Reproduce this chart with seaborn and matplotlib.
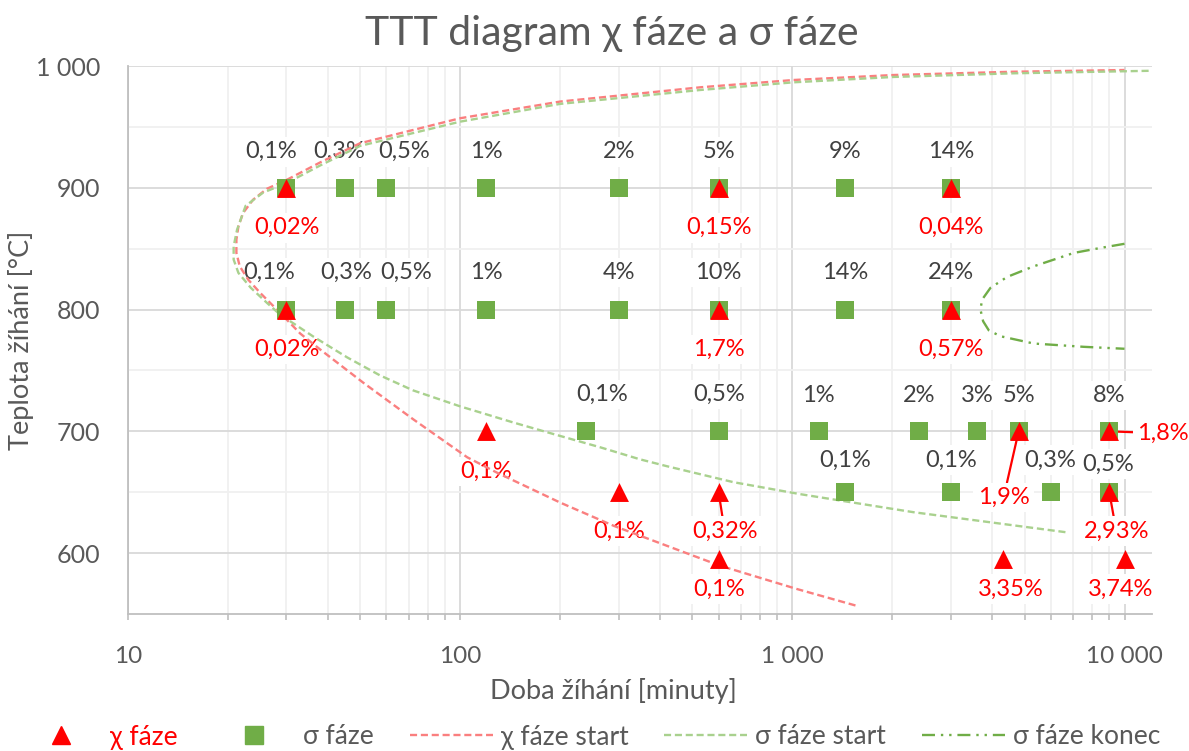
import pandas as pd
import matplotlib.pyplot as plt
import matplotlib.ticker as mticker
from matplotlib.lines import Line2D
import seaborn as sns

# ── data ─────────────────────────────────────────────────────
# sigma phase measurements (time in minutes, temperature in °C)
sigma_t = [30, 45, 60, 120, 300, 600, 1440, 3000,
           30, 45, 60, 120, 300, 600, 1440, 3000,
           240, 600, 1200, 2400, 3600, 4800, 9000,
           1440, 3000, 6000, 9000]
sigma_T = [900, 900, 900, 900, 900, 900, 900, 900,
           800, 800, 800, 800, 800, 800, 800, 800,
           700, 700, 700, 700, 700, 700, 700,
           650, 650, 650, 650]
sigma_lab = ['0,1%', '0,3%', '0,5%', '1%', '2%', '5%', '9%', '14%',
             '0,1%', '0,3%', '0,5%', '1%', '4%', '10%', '14%', '24%',
             '0,1%', '0,5%', '1%', '2%', '3%', '5%', '8%',
             '0,1%', '0,1%', '0,3%', '0,5%']

# chi phase measurements
chi_t = [30, 600, 3000, 30, 600, 3000, 120, 4800, 9000,
         300, 600, 9000, 600, 4320, 10000]
chi_T = [900, 900, 900, 800, 800, 800, 700, 700, 700,
         650, 650, 650, 595, 595, 595]
chi_lab = ['0,02%', '0,15%', '0,04%', '0,02%', '1,7%', '0,57%', '0,1%', '1,9%', '1,8%',
           '0,1%', '0,32%', '2,93%', '0,1%', '3,35%', '3,74%']

# chi start curve
chi_start_t = [1549, 1033, 607, 504, 290, 200, 129, 105, 72.3, 51.1, 37.9, 33.0,
               28.7, 25.0, 23.0, 21.7, 21.2, 21.2, 21.5, 22.2, 23.8, 26.2, 30.1,
               38, 50.0, 100, 200, 528, 1009, 2018, 4631, 10000]
chi_start_T = [557, 570.5, 589.6, 597.8, 622.4, 641.5, 666.1, 678.7, 709.8, 739.9,
               767.2, 780.3, 797.3, 813.7, 824.6, 835.5, 846.5, 857.4, 868.3, 879.3,
               890.2, 899.2, 906.6, 921, 936.6, 957.1, 970.8, 982.5, 988.5, 992.6,
               995.3, 996.7]

# sigma start curve
sigma_start_t = [6640, 2315, 1057, 666, 420, 348, 264, 183, 144, 100, 72.2, 57.4,
                 45.7, 36.1, 28.7, 26.2, 23.4, 21.5, 20.8, 20.8, 21.3, 22.6, 25.5,
                 30.1, 38, 50, 100, 200, 528, 1009, 2018, 4631, 12100]
sigma_start_T = [617.2, 633.6, 648.4, 658.2, 671.3, 677, 686.9, 699.2, 707.4, 720.5,
                 733.6, 745.9, 760.7, 777.9, 795.9, 805.5, 818, 830.1, 841, 852,
                 865.6, 885.2, 896, 904, 918.5, 934.4, 954.3, 968.9, 980.3, 986.6,
                 991, 994, 996.1]

# sigma end curve
sigma_end_t = [10000, 8467, 7035, 5330, 4433, 3948, 3727, 3684, 3753, 3902, 4231,
               5330, 7540, 10000]
sigma_end_T = [854, 850.6, 846.5, 835.5, 826.8, 817.8, 808.2, 800, 790.4, 783.0,
               778.1, 772.1, 769.4, 767.8]

# label offsets in pixels (dx, dy)
sigma_off = [(-15, 36), (-6, 36), (18, 36), (0, 36), (0, 36), (0, 36), (0, 36), (0, 36),
             (-17, 37), (1, 37), (20, 37), (0, 37), (0, 37), (0, 37), (0, 37), (0, 37),
             (16, 37), (0, 37), (0, 36), (0, 36), (0, 36), (0, 36), (0, 36),
             (0, 32), (0, 32), (-1, 32), (-1, 28)]
chi_off = [(0, -40), (0, -40), (0, -40), (0, -40), (0, -40), (0, -40),
           (0, -40), (-15, -66), (54, -2),
           (0, -39), (6, -39), (7, -39),
           (0, -30), (7, -30), (-4, -30)]
chi_leader = [False, False, False, False, False, False, False, True, True,
              False, True, True, False, False, False]

# ── style ────────────────────────────────────────────────────
sns.set_theme(style='white')
plt.rcParams['font.family'] = ['Lato', 'DejaVu Sans']

GREY = '#595959'
RED = '#FF0000'
GREEN = '#70AD47'
RED_LINE = '#FA7F7F'
GREEN_LINE = '#A9D18E'
DASH = (0, (3, 1.6))
DASHDOT = (0, (5.5, 2.5, 1, 2.5, 1, 2.5))

fig = plt.figure(figsize=(11.89, 7.51), dpi=100)
ax = fig.add_axes([128 / 1189, 1 - 614 / 751, 1024 / 1189, 548 / 751])

# curves
curves = [
    (chi_start_t, chi_start_T, RED_LINE, DASH),
    (sigma_start_t, sigma_start_T, GREEN_LINE, DASH),
    (sigma_end_t, sigma_end_T, GREEN, DASHDOT),
]
for t, T, c, ls in curves:
    d = pd.DataFrame({'t': t, 'T': T})
    sns.lineplot(data=d, x='t', y='T', sort=False, estimator=None, color=c,
                 linestyle=ls, linewidth=1.7, ax=ax, zorder=3)

# markers
sns.scatterplot(x=sigma_t, y=sigma_T, marker='s', color=GREEN, s=170,
                linewidth=0, ax=ax, zorder=4)
sns.scatterplot(x=chi_t, y=chi_T, marker='^', color=RED, s=185,
                linewidth=0, ax=ax, zorder=5)

box = dict(boxstyle='square,pad=0.18', fc='white', ec='none')
for t, T, lab, (dx, dy) in zip(sigma_t, sigma_T, sigma_lab, sigma_off):
    ax.annotate(lab, (t, T), xytext=(dx, dy), textcoords='offset pixels',
                ha='center', va='center', fontsize=17, color='#404040',
                bbox=box, zorder=2)
for t, T, lab, (dx, dy), lead in zip(chi_t, chi_T, chi_lab, chi_off, chi_leader):
    ap = dict(arrowstyle='-', color=RED, lw=1.6, shrinkA=0, shrinkB=0) if lead else None
    ax.annotate(lab, (t, T), xytext=(dx, dy), textcoords='offset pixels',
                ha='center', va='center', fontsize=17, color=RED,
                bbox=box, arrowprops=ap, zorder=2, annotation_clip=False)

# axes
ax.set_xscale('log')
ax.set_xlim(10, 12100)
ax.set_ylim(550, 1000)
ax.xaxis.set_major_locator(mticker.FixedLocator([10, 100, 1000, 10000]))
ax.xaxis.set_minor_locator(mticker.LogLocator(base=10, subs=range(2, 10), numticks=20))
ax.xaxis.set_minor_formatter(mticker.NullFormatter())
ax.xaxis.set_major_formatter(mticker.FuncFormatter(lambda v, p: f'{int(v):,}'.replace(',', ' ')))
ax.yaxis.set_major_locator(mticker.FixedLocator([600, 700, 800, 900, 1000]))
ax.yaxis.set_minor_locator(mticker.FixedLocator([650, 750, 850, 950]))
ax.yaxis.set_major_formatter(mticker.FuncFormatter(lambda v, p: f'{int(v):,}'.replace(',', ' ')))

ax.grid(which='major', color='#D9D9D9', linewidth=1.3, zorder=0)
ax.grid(which='minor', color='#F0F0F0', linewidth=1.3, zorder=0)
ax.set_axisbelow(True)
for s in ['top', 'right']:
    ax.spines[s].set_visible(False)
for s in ['left', 'bottom']:
    ax.spines[s].set_color('#BFBFBF')
    ax.spines[s].set_linewidth(1.3)

ax.tick_params(axis='x', which='both', direction='out', length=4, width=1.2,
               color='#BFBFBF', labelsize=17.5, labelcolor=GREY, pad=19, bottom=True)
ax.tick_params(axis='y', which='both', length=0, labelsize=18, labelcolor=GREY, pad=20)

ax.set_xlabel('Doba žíhání [minuty]', fontsize=19.5, color=GREY)
ax.set_ylabel('Teplota žíhání [°C]', fontsize=19.5, color=GREY)
ax.xaxis.set_label_coords(485 / 1024, -0.117)
ax.yaxis.set_label_coords(-0.092, 0.5)

fig.text(612 / 1189, 1 - 33 / 751, 'TTT diagram χ fáze a σ fáze', ha='center',
         va='center', fontsize=29.5, color=GREY)

# legend: one entry per box so each sits where the original puts it
handles = [
    Line2D([], [], marker='^', color=RED, linestyle='none', markersize=13),
    Line2D([], [], marker='s', color=GREEN, linestyle='none', markersize=12.5),
    Line2D([], [], color=RED_LINE, linestyle=DASH, linewidth=1.7),
    Line2D([], [], color=GREEN_LINE, linestyle=DASH, linewidth=1.7),
    Line2D([], [], color=GREEN, linestyle=DASHDOT, linewidth=1.7),
]
labels = ['χ fáze', 'σ fáze', 'χ fáze start', 'σ fáze start', 'σ fáze konec']
starts = [19, 212, 410, 664, 922]
for i, (h, lab, x0) in enumerate(zip(handles, labels, starts)):
    leg = fig.legend([h], [lab], loc='center left', bbox_to_anchor=(x0 / 1189, 14 / 751),
                     frameon=False, fontsize=19, handlelength=3.15, handletextpad=0.3,
                     borderpad=0, borderaxespad=0)
    leg.get_texts()[0].set_color(RED if i == 0 else GREY)

fig.savefig('out.png', dpi=100)
